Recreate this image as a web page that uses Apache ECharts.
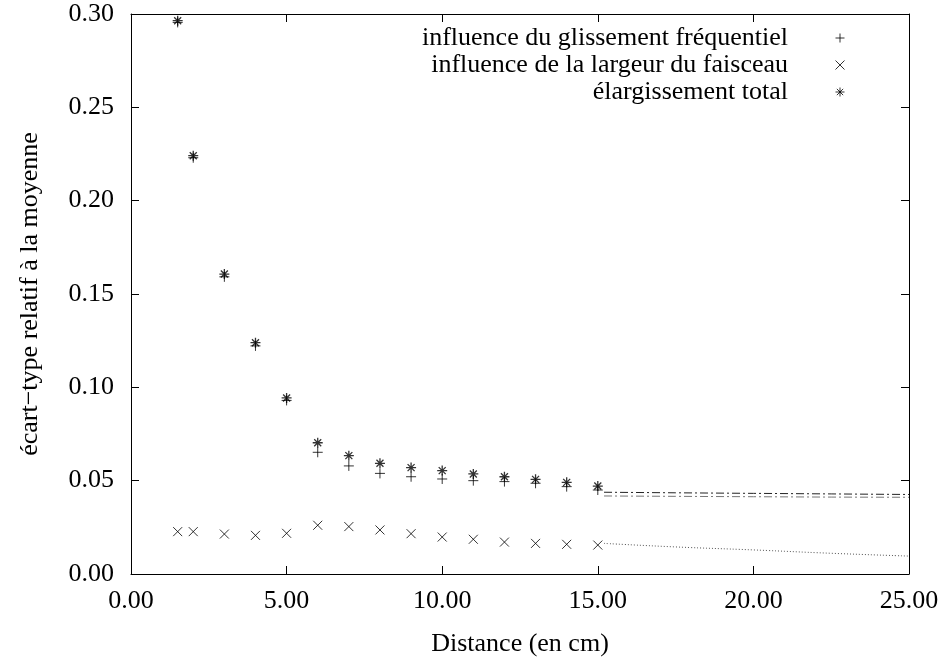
<!DOCTYPE html>
<html>
<head>
<meta charset="utf-8">
<script src="https://cdn.jsdelivr.net/npm/echarts@6/dist/echarts.min.js"></script>
<style>html,body{margin:0;padding:0;background:#fff}#c{width:941px;height:657px}</style>
</head>
<body>
<div id="c"></div>
<script>
// Distances (cm)
var distances = [1.5, 2, 3, 4, 5, 6, 7, 8, 9, 10, 11, 12, 13, 14, 15];
// influence du glissement fréquentiel (+)
var freqSlip = [0.2955, 0.2230, 0.1592, 0.1222, 0.0930, 0.0652, 0.0579, 0.0539, 0.0521, 0.0509, 0.0500, 0.0495, 0.0486, 0.0468, 0.0450];
// influence de la largeur du faisceau (x)
var beamWidth = [0.0227, 0.0227, 0.0214, 0.0207, 0.0218, 0.0261, 0.0254, 0.0236, 0.0216, 0.0198, 0.0186, 0.0171, 0.0164, 0.0159, 0.0155];
// élargissement total (*)
var totalBroad = [0.2964, 0.2241, 0.1607, 0.1239, 0.0943, 0.0703, 0.0634, 0.0593, 0.0570, 0.0554, 0.0536, 0.0521, 0.0507, 0.0491, 0.0471];

// extrapolation curves beyond 15 cm
var extX = [15.2, 17.5, 20, 22.5, 25];
var extTotal = [0.0438, 0.0435, 0.0432, 0.0429, 0.0426];
var extFreq = [0.0418, 0.0416, 0.0414, 0.0412, 0.0411];
var extWidth = [0.0164, 0.0145, 0.0129, 0.0111, 0.0096];

var xTicks = [0, 5, 10, 15, 20, 25];
var yTicks = [0, 0.05, 0.10, 0.15, 0.20, 0.25, 0.30];

var names = ['influence du glissement fréquentiel', 'influence de la largeur du faisceau', 'élargissement total'];

function pairs(xs, ys) { return xs.map(function (x, i) { return [x, ys[i]]; }); }

var PLUS = 'path://M0,5L10,5M5,0L5,10';
var CROSS = 'path://M0,0L10,10M10,0L0,10';
var STAR = 'path://M0,5L10,5M5,0L5,10M1.5,1.5L8.5,8.5M8.5,1.5L1.5,8.5';

var FONT = 'Liberation Serif';
var FS = 26;
var markStyle = { color: 'rgba(0,0,0,0)', borderColor: '#000', borderWidth: 1 };

function legendFor(i, icon, top) {
  return {
    data: [{ name: names[i], icon: icon }],
    top: top, right: 96, padding: 0,
    align: 'right', orient: 'vertical',
    itemWidth: 94, itemHeight: 9,
    itemStyle: { color: 'rgba(0,0,0,0)', borderColor: '#000', borderWidth: 1 },
    textStyle: { fontFamily: FONT, fontSize: FS, color: '#000' },
    selectedMode: false
  };
}

var axisLineStyle = { color: '#000', width: 1 };

var chart = echarts.init(document.getElementById('c'));
chart.setOption({
  animation: false,
  backgroundColor: '#fff',
  textStyle: { fontFamily: FONT },
  grid: { left: 131, right: 32, top: 14, bottom: 83, containLabel: false, outerBoundsMode: 'none' },
  legend: [
    legendFor(0, PLUS, 25),
    legendFor(1, CROSS, 52),
    legendFor(2, STAR, 79)
  ],
  xAxis: [{
    type: 'value', min: xTicks[0], max: xTicks[xTicks.length - 1], interval: xTicks[1] - xTicks[0],
    name: 'Distance (en cm)', nameLocation: 'middle', nameGap: 57,
    nameTextStyle: { fontFamily: FONT, fontSize: FS, color: '#000' },
    axisLine: { onZero: false, lineStyle: axisLineStyle },
    axisTick: { inside: true, length: 8, lineStyle: axisLineStyle },
    axisLabel: { margin: 14, fontFamily: FONT, fontSize: FS, color: '#000', formatter: function (v) { return v.toFixed(2); } },
    splitLine: { show: false }
  }, {
    type: 'value', position: 'top', min: xTicks[0], max: xTicks[xTicks.length - 1], interval: xTicks[1] - xTicks[0],
    axisLine: { onZero: false, lineStyle: axisLineStyle },
    axisTick: { inside: true, length: 8, lineStyle: axisLineStyle },
    axisLabel: { show: false }, splitLine: { show: false }
  }],
  yAxis: [{
    type: 'value', min: yTicks[0], max: yTicks[yTicks.length - 1], interval: 0.05,
    name: 'écart−type relatif à la moyenne', nameLocation: 'middle', nameGap: 88, nameRotate: 90,
    nameTextStyle: { fontFamily: FONT, fontSize: FS, color: '#000' },
    axisLine: { show: true, onZero: false, lineStyle: axisLineStyle },
    axisTick: { show: true, inside: true, length: 8, lineStyle: axisLineStyle },
    axisLabel: { margin: 17, fontFamily: FONT, fontSize: FS, color: '#000', formatter: function (v) { return v.toFixed(2); } },
    splitLine: { show: false }
  }, {
    type: 'value', position: 'right', min: yTicks[0], max: yTicks[yTicks.length - 1], interval: 0.05,
    axisLine: { show: true, onZero: false, lineStyle: axisLineStyle },
    axisTick: { show: true, inside: true, length: 8, lineStyle: axisLineStyle },
    axisLabel: { show: false }, splitLine: { show: false }
  }],
  series: [
    { name: names[0], type: 'scatter', data: pairs(distances, freqSlip), symbol: PLUS, symbolSize: 10, itemStyle: markStyle, z: 3 },
    { name: names[1], type: 'scatter', data: pairs(distances, beamWidth), symbol: CROSS, symbolSize: 9, itemStyle: markStyle, z: 3 },
    { name: names[2], type: 'scatter', data: pairs(distances, totalBroad), symbol: STAR, symbolSize: 10, itemStyle: { color: 'rgba(0,0,0,0)', borderColor: '#000', borderWidth: 1.3 }, z: 4 },
    { name: 'ext1', type: 'line', data: pairs(extX, extTotal), showSymbol: false, symbol: 'none',
      lineStyle: { color: '#222', width: 1, type: [8, 3, 2, 3] }, z: 2 },
    { name: 'ext2', type: 'line', data: pairs(extX, extFreq), showSymbol: false, symbol: 'none',
      lineStyle: { color: '#777', width: 1, type: [8, 3, 2, 3] }, z: 2 },
    { name: 'ext3', type: 'line', data: pairs(extX, extWidth), showSymbol: false, symbol: 'none', smooth: true,
      lineStyle: { color: '#555', width: 1, type: [1, 2] }, z: 2 }
  ]
});
</script>
</body>
</html>
